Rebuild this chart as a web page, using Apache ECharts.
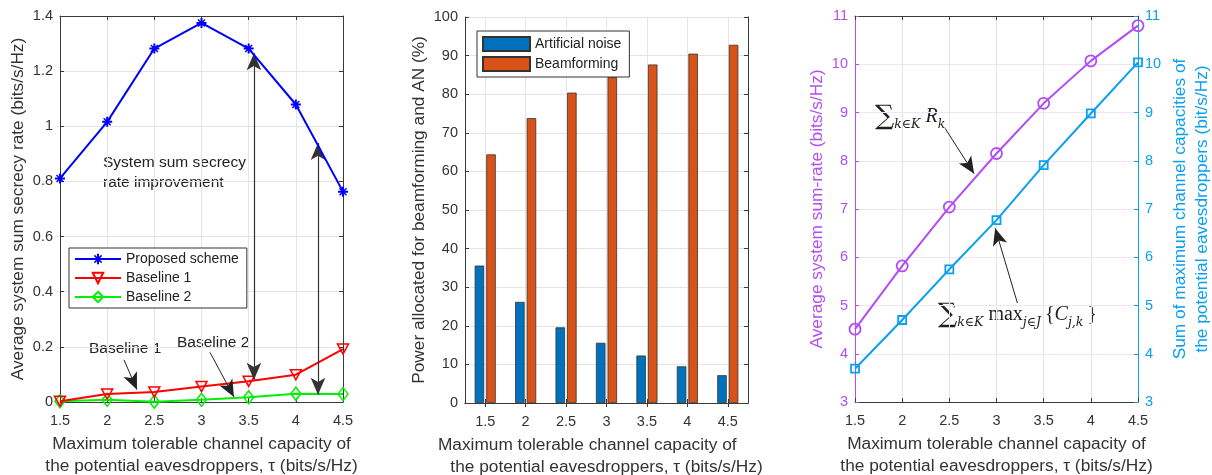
<!DOCTYPE html>
<html>
<head>
<meta charset="utf-8">
<script src="https://cdn.jsdelivr.net/npm/echarts@6/dist/echarts.min.js"></script>
<style>html,body{margin:0;padding:0;background:#fff}#c{width:1212px;height:475px}</style>
</head>
<body>
<div id="c"></div>
<script>
const xTicks = [1.5, 2, 2.5, 3, 3.5, 4, 4.5];
const proposed = [0.811, 1.016, 1.282, 1.375, 1.282, 1.079, 0.763];
const baseline1 = [0.003, 0.029, 0.036, 0.056, 0.075, 0.099, 0.192];
const baseline2 = [0.003, 0.008, 0.001, 0.008, 0.017, 0.030, 0.029];
const anPower = [35.6, 26.2, 19.6, 15.6, 12.3, 9.5, 7.2];
const bfPower = [64.4, 73.8, 80.4, 84.4, 87.7, 90.5, 92.8];
const sumRate = [4.51, 5.82, 7.04, 8.15, 9.19, 10.07, 10.80];
const sumCap = [3.69, 4.70, 5.75, 6.77, 7.91, 8.98, 10.04];

const pairs = (ys) => ys.map((v, i) => [xTicks[i], v]);
const FONT = '"Liberation Sans", Arial, Helvetica, sans-serif';
const TXT = '#333';
const AX = '#3a3a3a';
const GRIDC = '#e4e4e4';
const PURPLE = '#b24cf5';
const CYAN = '#0aa0f0';
const NAMEFS = 17.3;
const xName = 'Maximum tolerable channel capacity of\nthe potential eavesdroppers, \u03c4 (bits/s/Hz)';
const asterisk = 'path://M-1,-5L1,-5L1,5L-1,5Z M-5,-1L5,-1L5,1L-5,1Z M-3,-4L4,3L3,4L-4,-3Z M-4,3L3,-4L4,-3L-3,4Z';

function valX(grid, pos, showLabel, name, nameText) {
  return {
    type: 'value', gridIndex: grid, position: pos, min: 1.5, max: 4.5, interval: 0.5,
    axisLine: { show: true, onZero: false, lineStyle: { color: AX, width: 1 } },
    axisTick: { show: true, inside: true, length: 4, lineStyle: { color: AX } },
    axisLabel: { show: showLabel, color: TXT, fontSize: 14.5, fontFamily: FONT, margin: 11 },
    splitLine: { show: pos === 'bottom', lineStyle: { color: GRIDC } },
    name: name ? nameText : '', nameLocation: 'middle', nameGap: 31,
    nameTextStyle: { color: TXT, fontSize: NAMEFS, fontFamily: FONT, lineHeight: 22 }
  };
}
function valY(grid, pos, min, max, interval, showLabel, name, color, lineColor, gridColor, gap) {
  return {
    type: 'value', gridIndex: grid, position: pos, min: min, max: max, interval: interval,
    axisLine: { show: true, onZero: false, lineStyle: { color: lineColor, width: 1 } },
    axisTick: { show: true, inside: true, length: 4, lineStyle: { color: lineColor } },
    axisLabel: { show: showLabel, color: color, fontSize: 14.5, fontFamily: FONT, margin: 7 },
    splitLine: { show: !!gridColor, lineStyle: { color: gridColor || GRIDC } },
    name: name || '', nameLocation: 'middle', nameGap: gap || 35,
    nameTextStyle: { color: color, fontSize: NAMEFS, fontFamily: FONT, lineHeight: 22 }
  };
}

const arrowHead = [11, 17];
function arrow(a, b, both) {
  return [
    { coord: a, symbol: both ? 'arrow' : 'none', symbolSize: arrowHead },
    { coord: b, symbol: 'arrow', symbolSize: arrowHead }
  ];
}
const richMath = {
  s: { fontSize: 27, fontFamily: '"DejaVu Serif", serif', lineHeight: 30, verticalAlign: 'middle', fill: '#222' },
  sub: { fontSize: 12.5, fontStyle: 'italic', fontFamily: '"DejaVu Serif", serif', lineHeight: 14, verticalAlign: 'bottom', fill: '#222' },
  m: { fontSize: 20, fontFamily: '"Liberation Serif", serif', lineHeight: 24, verticalAlign: 'middle', fill: '#222' },
  mi: { fontSize: 20, fontStyle: 'italic', fontFamily: '"Liberation Serif", serif', lineHeight: 24, verticalAlign: 'middle', fill: '#222' }
};

const gridBase = { show: false, containLabel: false, outerBoundsMode: 'none' };
const option = {
  animation: false,
  backgroundColor: '#fff',
  textStyle: { fontFamily: FONT },
  grid: [
    Object.assign({ left: 60, top: 16, width: 283, height: 386 }, gridBase),
    Object.assign({ left: 465, top: 17, width: 283, height: 386 }, gridBase),
    Object.assign({ left: 855, top: 16, width: 283, height: 386 }, gridBase)
  ],
  xAxis: [
    valX(0, 'bottom', true, true, xName),
    valX(0, 'top', false, false),
    {
      type: 'category', gridIndex: 1, position: 'bottom', data: xTicks.map(String),
      axisLine: { show: true, lineStyle: { color: AX } },
      axisTick: { show: true, inside: true, length: 4, alignWithLabel: true, lineStyle: { color: AX } },
      axisLabel: { color: TXT, fontSize: 14.5, fontFamily: FONT, margin: 11 },
      splitLine: { show: true, alignWithLabel: true, lineStyle: { color: GRIDC } },
      name: 'Maximum tolerable channel capacity of        \nthe potential eavesdroppers, \u03c4 (bits/s/Hz)',
      nameLocation: 'middle', nameGap: 31,
      nameTextStyle: { color: TXT, fontSize: NAMEFS, fontFamily: FONT, lineHeight: 22 }
    },
    {
      type: 'category', gridIndex: 1, position: 'top', data: xTicks.map(String),
      axisLine: { show: true, lineStyle: { color: AX } },
      axisTick: { show: true, inside: true, length: 4, alignWithLabel: true, lineStyle: { color: AX } },
      axisLabel: { show: false }, splitLine: { show: false }
    },
    valX(2, 'bottom', true, true, xName),
    valX(2, 'top', false, false)
  ],
  yAxis: [
    valY(0, 'left', 0, 1.4, 0.2, true, 'Average system sum secrecy rate (bits/s/Hz)', TXT, AX, GRIDC, 30),
    valY(0, 'right', 0, 1.4, 0.2, false, '', TXT, AX, null),
    valY(1, 'left', 0, 100, 10, true, 'Power allocated for beamforming and AN (%)', TXT, AX, GRIDC, 35),
    valY(1, 'right', 0, 100, 10, false, '', TXT, AX, null),
    valY(2, 'left', 3, 11, 1, true, 'Average system sum-rate (bits/s/Hz)', PURPLE, PURPLE, '#f1e2fd', 25),
    valY(2, 'right', 3, 11, 1, true, 'Sum of maximum channel capacities of\nthe potential eavesdroppers (bit/s/Hz)', CYAN, CYAN, null, 31)
  ],
  legend: [
    {
      left: 69, top: 248, orient: 'vertical', itemWidth: 46, itemHeight: 13, itemGap: 5,
      padding: [4, 8, 4, 5], borderColor: '#333', borderWidth: 1, backgroundColor: '#fff',
      textStyle: { color: '#222', fontSize: 14, fontFamily: FONT },
      data: ['Proposed scheme', 'Baseline 1', 'Baseline 2'], selectedMode: false
    },
    {
      left: 477, top: 31, orient: 'vertical', itemWidth: 47, itemHeight: 14, itemGap: 4,
      padding: [5, 8, 5, 5], borderColor: '#333', borderWidth: 1, backgroundColor: '#fff',
      textStyle: { color: '#222', fontSize: 14, fontFamily: FONT },
      data: ['Artificial noise', 'Beamforming'], selectedMode: false, icon: 'rect'
    }
  ],
  series: [
    {
      name: 'Proposed scheme', type: 'line', xAxisIndex: 0, yAxisIndex: 0, data: pairs(proposed),
      symbol: asterisk, symbolSize: 10, z: 5,
      lineStyle: { color: '#0000ff', width: 2 }, itemStyle: { color: '#0000ff' },
      markLine: {
        silent: true, label: { show: false },
        lineStyle: { color: '#333', width: 1.2, type: 'solid' },
        data: [
          arrow([3.556, 1.265], [3.556, 0.081], true),
          arrow([4.235, 0.939], [4.235, 0.026], true)
        ]
      }
    },
    {
      name: 'Baseline 1', type: 'line', xAxisIndex: 0, yAxisIndex: 0, data: pairs(baseline1),
      symbol: 'triangle', symbolRotate: 180, symbolSize: [11, 10], z: 4,
      lineStyle: { color: '#ff0000', width: 2 },
      itemStyle: { color: 'rgba(255,255,255,0)', borderColor: '#ff0000', borderWidth: 1.5 },
      markLine: {
        silent: true, label: { show: false },
        lineStyle: { color: '#222', width: 1, type: 'solid' },
        data: [
          arrow([2.178, 0.153], [2.316, 0.0445], false),
          arrow([3.090, 0.180], [3.344, 0.018], false)
        ]
      }
    },
    {
      name: 'Baseline 2', type: 'line', xAxisIndex: 0, yAxisIndex: 0, data: pairs(baseline2),
      symbol: 'diamond', symbolSize: [10, 13], z: 3,
      lineStyle: { color: '#00f000', width: 2 },
      itemStyle: { color: 'rgba(255,255,255,0)', borderColor: '#00f000', borderWidth: 1.5 }
    },
    {
      name: 'Artificial noise', type: 'bar', xAxisIndex: 2, yAxisIndex: 2, data: anPower,
      barWidth: 9.5, barGap: '22%',
      itemStyle: { color: '#0072bd', borderColor: '#333', borderWidth: 0.8 }
    },
    {
      name: 'Beamforming', type: 'bar', xAxisIndex: 2, yAxisIndex: 2, data: bfPower,
      barWidth: 9.5, barGap: '22%',
      itemStyle: { color: '#d95319', borderColor: '#333', borderWidth: 0.8 }
    },
    {
      name: 'Sum rate', type: 'line', xAxisIndex: 4, yAxisIndex: 4, data: pairs(sumRate),
      symbol: 'circle', symbolSize: 11,
      lineStyle: { color: PURPLE, width: 2 },
      itemStyle: { color: 'rgba(255,255,255,0)', borderColor: PURPLE, borderWidth: 1.8 },
      markLine: {
        silent: true, label: { show: false },
        lineStyle: { color: '#222', width: 1, type: 'solid' },
        data: [
          arrow([2.455, 8.672], [2.763, 7.73], false),
          arrow([3.222, 5.049], [2.986, 6.60], false)
        ]
      }
    },
    {
      name: 'Sum capacity', type: 'line', xAxisIndex: 4, yAxisIndex: 5, data: pairs(sumCap),
      symbol: 'rect', symbolSize: 8,
      lineStyle: { color: CYAN, width: 2 },
      itemStyle: { color: 'rgba(255,255,255,0)', borderColor: CYAN, borderWidth: 1.8 }
    }
  ],
  graphic: [
    { type: 'text', left: 103, top: 153, silent: true,
      style: { text: 'System sum secrecy\nrate improvement', font: '15.5px ' + FONT, fill: '#222', lineHeight: 20 } },
    { type: 'text', left: 89, top: 341, silent: true,
      style: { text: 'Baseline 1', font: '15.5px ' + FONT, fill: '#222' } },
    { type: 'text', left: 177, top: 335, silent: true,
      style: { text: 'Baseline 2', font: '15.5px ' + FONT, fill: '#222' } },
    { type: 'text', left: 875, top: 103, silent: true,
      style: {
        text: '{s|\u2211}{sub|k\u2208K}{m| }{mi|R}{sub|k}',
        fill: '#222', font: '20px "Liberation Serif", serif', rich: richMath
      } },
    { type: 'text', left: 938, top: 301, silent: true,
      style: {
        text: '{s|\u2211}{sub|k\u2208K}{m| max}{sub|j\u2208J }{m|\u007b}{mi|C}{sub|j,k}{m|\u2009}\u007d',
        fill: '#222', font: '20px "Liberation Serif", serif', rich: richMath
      } }
  ]
};

const chart = echarts.init(document.getElementById('c'), null, { renderer: 'canvas' });
chart.setOption(option);
</script>
</body>
</html>
